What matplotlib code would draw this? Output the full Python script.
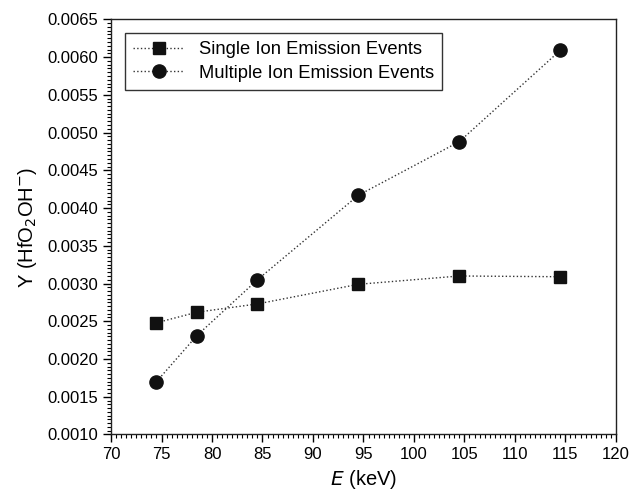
import matplotlib.pyplot as plt
from matplotlib.ticker import MultipleLocator

plt.rcParams['font.family'] = ['Liberation Sans', 'DejaVu Sans']

energy = [74.5, 78.5, 84.5, 94.5, 104.5, 114.5]
single_yield = [0.00248, 0.00262, 0.00273, 0.00299, 0.00310, 0.00309]
multiple_yield = [0.00170, 0.00231, 0.00305, 0.00417, 0.00488, 0.00609]

fig = plt.figure(figsize=(6.31, 4.96), dpi=100)
ax = fig.add_axes([0.176, 0.124, 0.800, 0.837])

ax.plot(energy, single_yield, linestyle=':', color='#333333', linewidth=1.0,
        marker='s', markersize=9, markerfacecolor='#111111', markeredgecolor='#111111',
        label='Single Ion Emission Events')
ax.plot(energy, multiple_yield, linestyle=':', color='#333333', linewidth=1.0,
        marker='o', markersize=9.5, markerfacecolor='#111111', markeredgecolor='#111111',
        label='Multiple Ion Emission Events')

ax.set_xlim(70, 120)
ax.set_ylim(0.0010, 0.0065)
ax.xaxis.set_major_locator(MultipleLocator(5))
ax.xaxis.set_minor_locator(MultipleLocator(0.5))
ax.yaxis.set_major_locator(MultipleLocator(0.0005))
ax.yaxis.set_minor_locator(MultipleLocator(0.00005))
ax.yaxis.set_major_formatter(plt.FormatStrFormatter('%.4f'))
ax.tick_params(which='major', direction='out', length=6, width=1, labelsize=12, pad=3)
ax.tick_params(which='minor', direction='out', length=3, width=0.8)
for s in ax.spines.values():
    s.set_linewidth(1.0)
    s.set_color('#222222')

ax.set_xlabel('$E$ (keV)', fontsize=14.5, labelpad=4)
ax.set_ylabel('Y (HfO$_2$OH$^{-}$)', fontsize=14.5, labelpad=6)

leg = ax.legend(loc='upper left', fontsize=13.2, frameon=True, fancybox=False,
                edgecolor='black', borderaxespad=0.75, handlelength=2.8,
                labelspacing=0.35, borderpad=0.45)
leg.get_frame().set_linewidth(1.0)

fig.savefig('out.png', dpi=100)
